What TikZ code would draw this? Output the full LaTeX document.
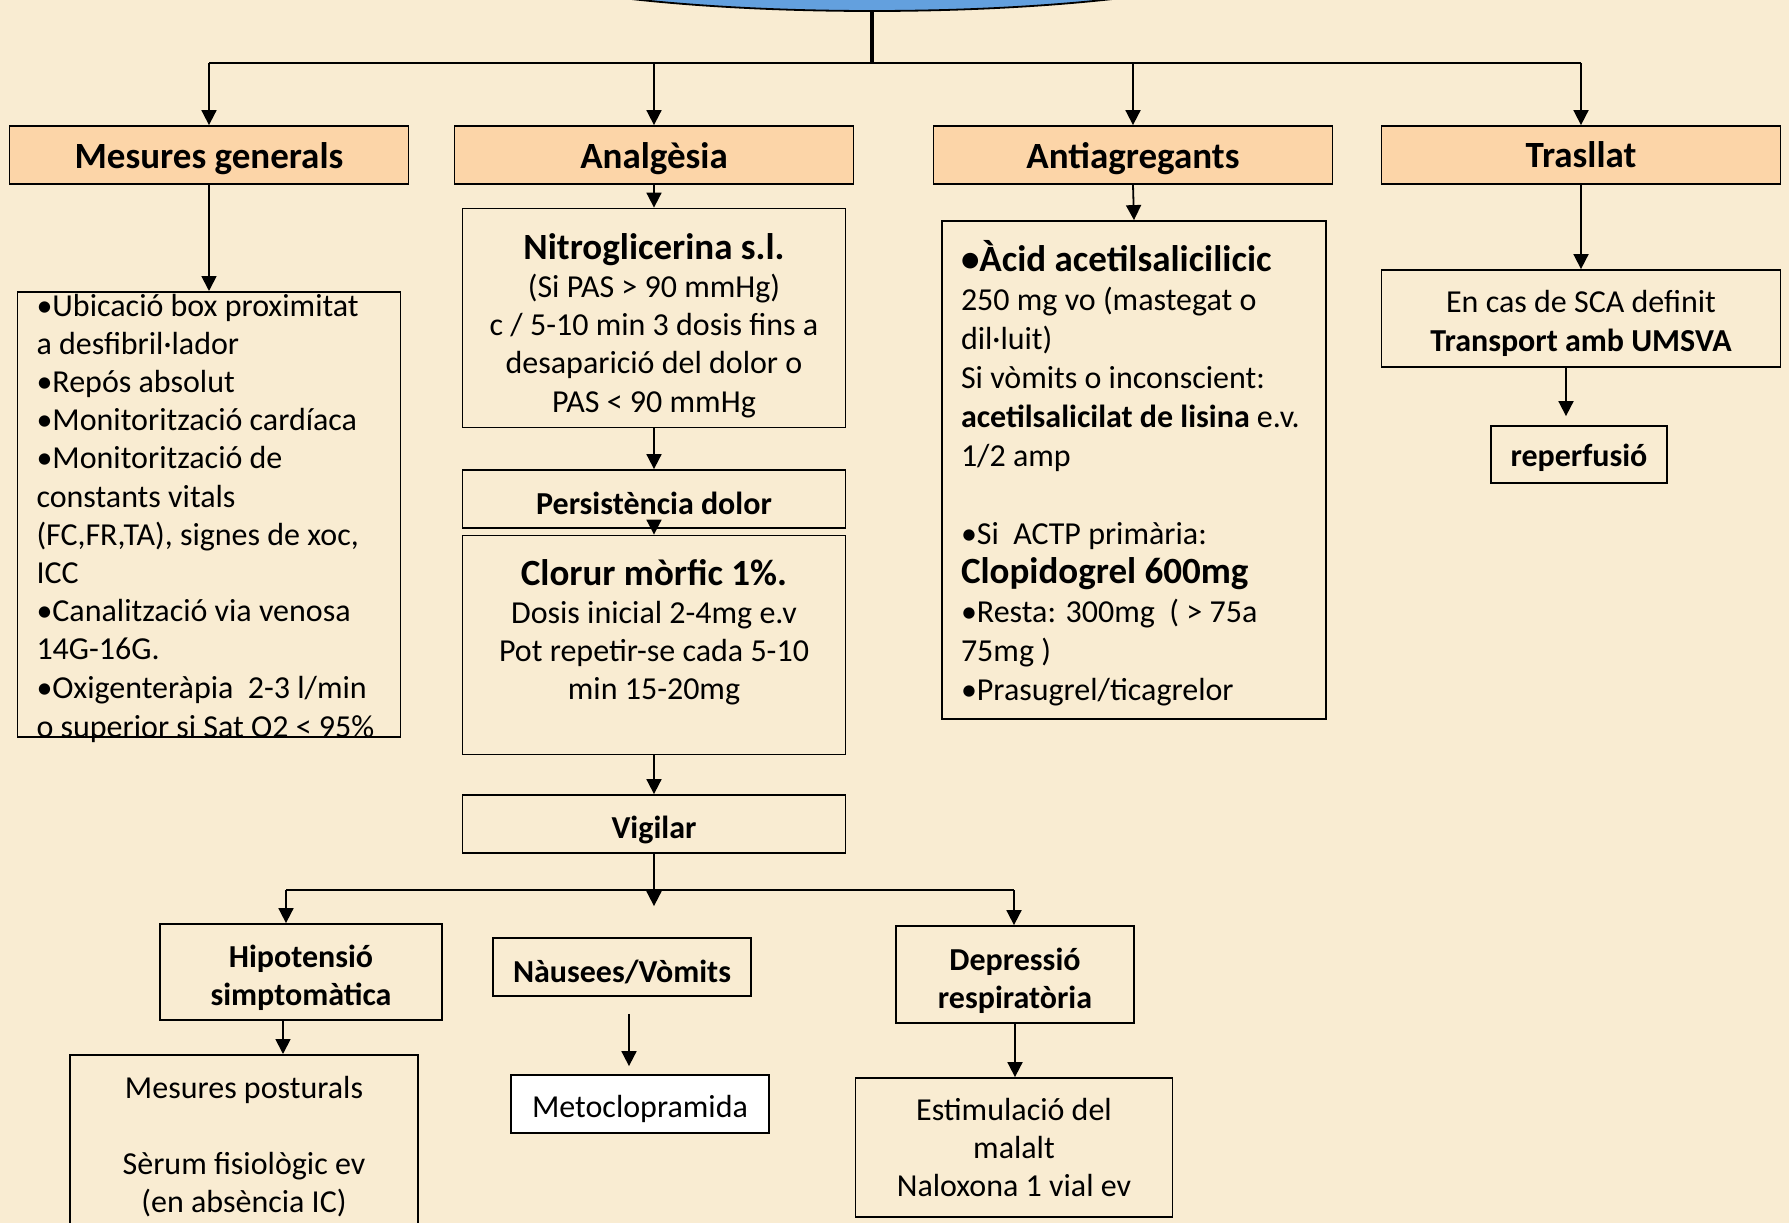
\documentclass[tikz,border=0pt]{standalone}
\usepackage{fontspec}
\setmainfont{Carlito}
\usepackage{tikz}
\usetikzlibrary{arrows.meta,shapes.geometric}
\definecolor{fons}{RGB}{249,236,210}
\definecolor{taronja}{RGB}{252,213,168}
\definecolor{blau}{RGB}{99,160,222}
\def\titolgran{\fontsize{37}{40}\selectfont\bfseries}
\newcommand\baixa[2][5pt]{\raisebox{-#1}[\height][\depth]{#2}}
\tikzset{
	capcal/.style={draw, line width=1.8pt, fill=taronja, minimum width=399pt, minimum height=58pt, inner sep=0pt, font=\fontsize{37}{44}\selectfont\bfseries},
	caixa/.style={draw, line width=1.8pt, inner sep=0pt, font=\fontsize{32}{38.2}\selectfont},
	negreta/.style={font=\fontsize{32}{38.2}\selectfont\bfseries},
	fletxa/.style={line width=1.8pt, -{Triangle[width=15pt, length=15pt]}},
	linia/.style={line width=1.8pt}
}

\begin{document}
\begin{tikzpicture}[x=1pt, y=-1pt]
			%%%%% START %%%%%
			
			\clip (0, 0) rectangle (1789, 1223);
			\fill[fons] (0, 0) rectangle (1789, 1223);
			
			\node[draw, ellipse, fill=blau, line width=1.8pt, minimum width=860pt, minimum height=140pt] (titol) at (872, -59) {};
			\coordinate (nus) at (872, 63);
			
			\node[capcal] (mg) at (209, 155) {\baixa[3.5pt]{Mesures generals}};
			\node[capcal] (an) at (654, 155) {\baixa[3.5pt]{Analgèsia}};
			\node[capcal] (aa) at (1133, 155) {\baixa[3.5pt]{Antiagregants}};
			\node[capcal] (tr) at (1581, 155) {Trasllat};
			
			\draw[line width=3.5pt] (titol.south) -- (nus);
			\draw[linia] (mg.north |- nus) -- (tr.north |- nus);
			\draw[fletxa] (mg.north |- nus) -- (mg.north);
			\draw[fletxa] (an.north |- nus) -- (an.north);
			\draw[fletxa] (aa.north |- nus) -- (aa.north);
			\draw[fletxa] (tr.north |- nus) -- (tr.north);
			
			% mesures generals
			\node[caixa, anchor=north, inner xsep=19pt, inner ysep=2pt] (mgl) at (209, 291) {\parbox[t][441pt][t]{345pt}{\raggedright
				•Ubicació box proximitat\\
				a desfibril·lador\\
				•Repós absolut\\
				•Monitorització cardíaca\\
				•Monitorització de\\
				constants vitals\\
				(FC,FR,TA), signes de xoc,\\
				ICC\\
				•Canalització via venosa\\
				14G-16G.\\
				•Oxigenteràpia\ \ 2-3 l/min\\[1.5pt]
				o superior si Sat O2 < 95\%}};
			\draw[fletxa] (mg.south) -- (mgl.north);
			
			% analgesia
			\node[caixa, minimum width=383pt, minimum height=219pt] (nit) at (654, 318) {\baixa[7.5pt]{\parbox{383pt}{\centering {\titolgran Nitroglicerina s.l.}\\ (Si PAS > 90 mmHg)\\ c / 5-10 min 3 dosis fins a\\ desaparició del dolor o\\ PAS < 90 mmHg}}};
			\node[caixa, negreta, minimum width=383pt, minimum height=58pt] (per) at (654, 499) {\baixa[4.5pt]{Persistència dolor}};
			\node[caixa, minimum width=383pt, minimum height=219pt] (clo) at (654, 645) {\baixa[3.5pt]{\parbox{383pt}{\centering {\titolgran Clorur mòrfic 1\%.}\\ Dosis inicial 2-4mg e.v\\ Pot repetir-se cada 5-10\\ min 15-20mg\\ ~}}};
			\node[caixa, negreta, minimum width=383pt, minimum height=58pt] (vig) at (654, 824) {\baixa[5.5pt]{Vigilar}};
			\draw[fletxa] (an.south) -- (nit.north);
			\draw[fletxa] (nit.south) -- (per.north);
			\draw[fletxa] (per.south) -- (clo.north);
			\draw[fletxa] (clo.south) -- (vig.north);
			
			% vigilar
			\node[caixa, negreta, minimum width=282pt, minimum height=96pt] (hip) at (301, 972) {\baixa[5.5pt]{\parbox{282pt}{\centering Hipotensió\\ simptomàtica}}};
			\node[caixa, negreta, minimum width=258pt, minimum height=58pt] (nau) at (622, 967) {\baixa[4.5pt]{Nàusees/Vòmits}};
			\node[caixa, negreta, minimum width=238pt, minimum height=97pt] (dep) at (1015, 974.5) {\baixa[6pt]{\parbox{238pt}{\centering Depressió\\ respiratòria}}};
			\coordinate (br) at (654, 890);
			\coordinate (bl) at (286, 890);
			\coordinate (bd) at (1014, 890);
			\draw[linia] (vig.south) -- (br);
			\draw[linia] (bl) -- (bd);
			\draw[fletxa] (bl) -- (bl |- hip.north);
			\draw[fletxa, shorten >=31pt] (br) -- (br |- nau.north);
			\draw[fletxa] (bd) -- (bd |- dep.north);
			
			\node[caixa, anchor=north, inner xsep=0pt, inner ysep=21pt] (mp) at (244, 1054) {\parbox[t][200pt][t]{348pt}{\centering Mesures posturals\\ ~\\ Sèrum fisiològic ev\\ (en absència IC)}};
			\node[caixa, fill=white, minimum width=258pt, minimum height=58pt] (met) at (640, 1104) {\baixa[4.5pt]{Metoclopramida}};
			\node[caixa, minimum width=317pt, minimum height=139pt, align=center] (est) at (1014, 1147.5) {Estimulació del\\ malalt\\ Naloxona 1 vial ev};
			\draw[fletxa] ([xshift=-18pt]hip.south) -- ([xshift=-18pt]hip.south |- mp.north);
			\draw[fletxa, shorten <=17pt, shorten >=8pt] ([xshift=7pt]nau.south) -- ([xshift=7pt]nau.south |- met.north);
			\draw[fletxa] (dep.south) -- (dep.south |- est.north);
			
			% antiagregants
			\node[caixa, minimum width=384pt, minimum height=498pt, inner xsep=19pt, font=\fontsize{32}{39}\selectfont] (aal) at (1134, 470) {\baixa[3.5pt]{\parbox{346pt}{\raggedright
				{\titolgran •Àcid acetilsalicilicic}\\
				250 mg vo (mastegat o\\
				dil·luit)\\
				Si vòmits o inconscient:\\
				\textbf{acetilsalicilat de lisina} e.v.\\
				1/2 amp\\
				~\\
				•Si\ \ ACTP primària:\\
				{\titolgran Clopidogrel 600mg}\\
				•Resta: 300mg\ \ ( > 75a\\
				75mg )\\
				•Prasugrel/ticagrelor}}};
			\draw[fletxa] (aa.south) -- (aal.north);
			
			% trasllat
			\node[caixa, minimum width=399pt, minimum height=97pt] (tr2) at (1581, 318.5) {\baixa{\parbox{399pt}{\centering En cas de SCA definit\\ \textbf{Transport amb UMSVA}}}};
			\node[caixa, negreta, minimum width=176pt, minimum height=57pt] (reperf) at (1579, 454.5) {\baixa[3.5pt]{reperfusió}};
			\draw[fletxa] (tr.south) -- (tr2.north);
			\draw[fletxa, shorten >=9pt] ([xshift=-15pt]tr2.south) -- ([xshift=-15pt]tr2.south |- reperf.north);
			
			%%%%% END %%%%%
\end{tikzpicture}
\end{document}
